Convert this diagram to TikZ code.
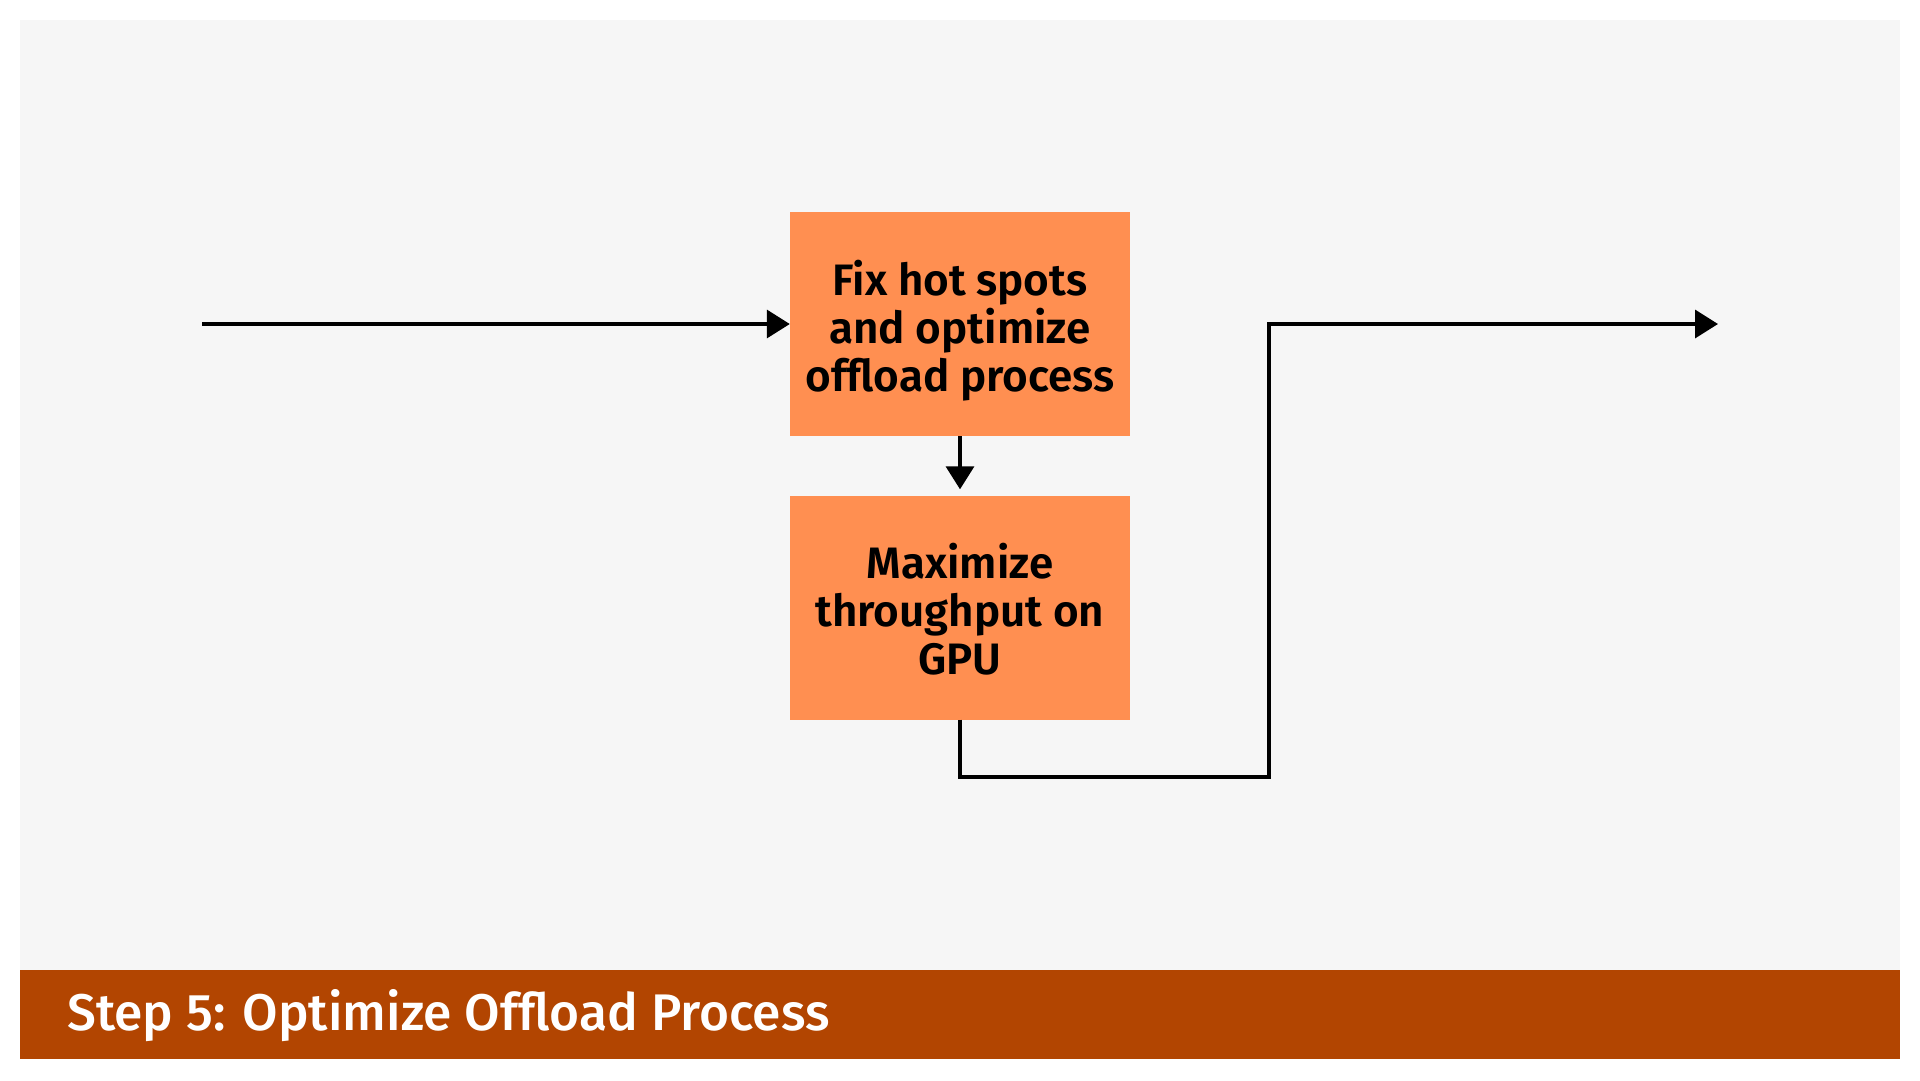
\documentclass[tikz,border=0pt]{standalone}
\usepackage{fontspec}
\setmainfont{Fira Sans}
\newfontfamily\boxfont{Fira Sans SemiBold}
\newfontfamily\barfont{Fira Sans Medium}
\usetikzlibrary{arrows.meta}
\definecolor{bgc}{HTML}{F6F6F6}
\definecolor{boxc}{HTML}{FF8F51}
\definecolor{barc}{HTML}{B24501}
\begin{document}
\begin{tikzpicture}[x=1pt,y=-1pt,
  procbox/.style={fill=boxc, minimum width=340pt, minimum height=224pt, inner sep=0pt, align=center, font=\boxfont\fontsize{44}{48}\selectfont},
  conn/.style={line width=3.5pt, -{Triangle[length=23pt,width=28pt]}}]
\fill[white] (0,0) rectangle (1920,1080);
\useasboundingbox (0,0) rectangle (1920,1080);
\fill[bgc] (20,20) rectangle (1900,970);
\fill[barc] (20,970) rectangle (1900,1059);
\node[anchor=base west, text=white, font=\barfont\fontsize{51.5}{60}\selectfont, inner sep=0pt] (title) at (67,1030) {Step 5: Optimize Offload Process};
\node[procbox] (top) at (960,324) {\rule{0pt}{49pt}Fix hot spots\\and optimize\\offload process};
\node[procbox] (bot) at (960,607.5) {\rule{0pt}{38pt}Maximize\\throughput on\\GPU};
\coordinate (in) at (202,324);
\coordinate (turn) at (1269,777);
\coordinate (out) at (1718,324);
\draw[conn] (in) -- (top.west);
\draw[conn, shorten >=6pt] (top.south) -- (bot.north);
\draw[conn] (bot.south) |- (turn) |- (out);
\end{tikzpicture}
\end{document}
